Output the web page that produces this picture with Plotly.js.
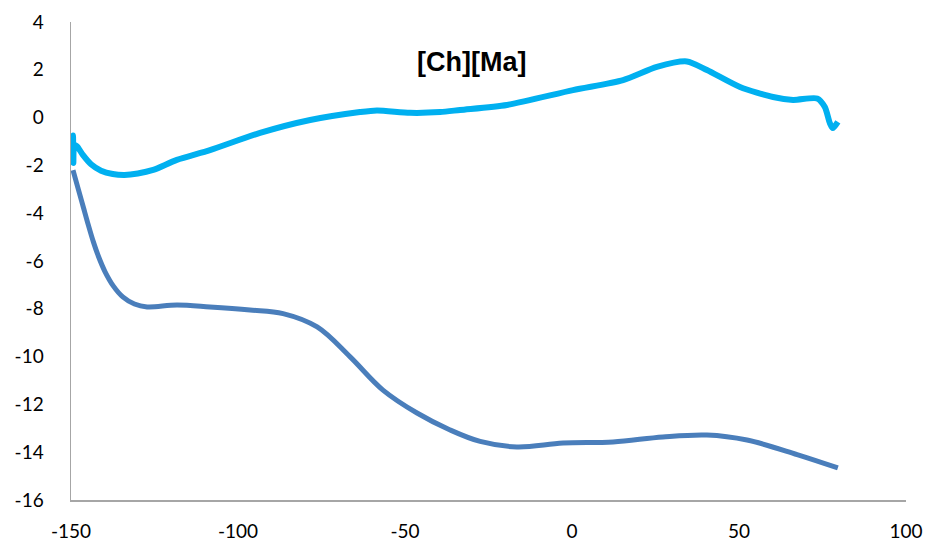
<!DOCTYPE html>
<html>
<head>
<meta charset="utf-8">
<script src="https://cdn.plot.ly/plotly-3.0.1.min.js"></script>
<style>html,body{margin:0;padding:0;background:#fff;}#chart{width:928px;height:548px;}</style>
</head>
<body>
<div id="chart"></div>
<script>
// Dark blue series
const darkX = [-149.4, -147.8, -146.3, -144.8, -143.3, -141.8, -139.8, -137.3, -134.5, -131.0, -127.2, -118.3, -108.4, -96.4, -86.5, -76.3, -66.5, -56.6, -46.4, -36.5, -27.5, -16.5, -2.7, 12.3, 27.2, 40.4, 52.4, 67.4, 79.6];
const darkY = [-2.2, -3.0, -3.75, -4.5, -5.2, -5.8, -6.45, -7.05, -7.5, -7.8, -7.92, -7.84, -7.92, -8.05, -8.2, -8.76, -10.0, -11.4, -12.36, -13.07, -13.55, -13.78, -13.62, -13.57, -13.36, -13.28, -13.49, -14.1, -14.66];

// Light blue series
const lightX = [-149.6, -149.4, -149.3, -149.0, -148.2, -146.5, -144.0, -141.0, -137.5, -134.0, -130.0, -125.4, -118.3, -108.4, -93.4, -78.4, -63.5, -58.4, -48.5, -39.5, -33.5, -19.5, 0.3, 15.3, 25.4, 34.4, 40.4, 50.3, 60.2, 66.2, 73.4, 75.7, 77.2, 78.1, 79.6];
const lightY = [-1.1, -0.75, -1.9, -1.15, -1.2, -1.55, -1.95, -2.22, -2.36, -2.4, -2.34, -2.19, -1.77, -1.36, -0.64, -0.1, 0.23, 0.3, 0.2, 0.23, 0.32, 0.53, 1.15, 1.57, 2.12, 2.35, 1.99, 1.28, 0.86, 0.74, 0.8, 0.44, -0.23, -0.44, -0.18];

const xTicks = [-150, -100, -50, 0, 50, 100];
const yTicks = [-16, -14, -12, -10, -8, -6, -4, -2, 0, 2, 4];
const chartTitle = "[Ch][Ma]";

const tickFont = {family: "'Liberation Sans Narrow', 'Arial Narrow', Lato, sans-serif", size: 19, color: '#000'};

const traces = [
  {x: darkX, y: darkY, mode: 'lines', line: {color: '#4A7EBB', width: 5, shape: 'spline', smoothing: 1}, showlegend: false, hoverinfo: 'skip'},
  {x: lightX, y: lightY, mode: 'lines', line: {color: '#00B0F0', width: 6, shape: 'spline', smoothing: 0.7}, showlegend: false, hoverinfo: 'skip'}
];

const layout = {
  width: 928, height: 548,
  margin: {l: 71, r: 22, t: 22, b: 48},
  paper_bgcolor: '#fff', plot_bgcolor: '#fff',
  xaxis: {range: [-150, 100], tickvals: xTicks, ticktext: xTicks.map(String), showgrid: false, zeroline: false,
          showline: true, linecolor: '#A6A6A6', linewidth: 1.5, ticks: '', tickfont: tickFont, ticklabelstandoff: 14},
  yaxis: {range: [-16, 4], tickvals: yTicks, ticktext: yTicks.map(String), showgrid: false, zeroline: false,
          showline: true, linecolor: '#A6A6A6', linewidth: 1.5, ticks: '', tickfont: tickFont, ticklabelstandoff: 22},
  annotations: [{text: '<b>' + chartTitle + '</b>', xref: 'paper', yref: 'paper', x: 0.48, y: 0.952, showarrow: false,
                 font: {family: "'Liberation Sans', Arial, sans-serif", size: 27, color: '#000'}}]
};

Plotly.newPlot('chart', traces, layout, {staticPlot: true});
</script>
</body>
</html>
